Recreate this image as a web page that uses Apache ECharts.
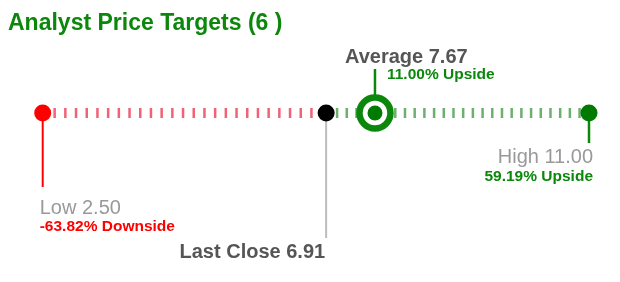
<!DOCTYPE html>
<html><head><meta charset="utf-8">
<script src="https://cdn.jsdelivr.net/npm/echarts@6/dist/echarts.min.js"></script>
<style>html,body{margin:0;padding:0;background:#fff}#c{width:620px;height:282px}</style>
</head><body><div id="c"></div>
<script>
// ---- data ----
const chartTitle = 'Analyst Price Targets';
const analystCount = 6;
const pointNames = ['Low', 'Last Close', 'Average', 'High'];
const pointPrices = [2.50, 6.91, 7.67, 11.00];

// ---- layout / style (not data) ----
const FONT = '"Liberation Sans", Arial, sans-serif';
const GREEN = '#0b880b';
const RED = '#ff0000';
const stemLen = { low: -74, close: -125, avg: 44, high: -30 };

const [low, close, avg, high] = pointPrices;
const pct = v => ((v - close) / close * 100);
const fmt = v => v.toFixed(2);
const chg = v => { const p = pct(v); return (p < 0 ? p.toFixed(2) + '% Downside' : p.toFixed(2) + '% Upside'); };

const chart = echarts.init(document.getElementById('c'), null, { renderer: 'canvas' });

function stem(x, len, color, width) {
  return { type: 'line', data: [[x, 0], [x, len]], symbol: 'none', silent: true, z: 2,
    lineStyle: { color, width, cap: 'butt' } };
}
function dot(x, size, style, z) {
  return { type: 'scatter', data: [[x, 0]], symbol: 'circle', symbolSize: size, silent: true, z: z || 5,
    itemStyle: Object.assign({ opacity: 1 }, style) };
}
function label(x, y, text, align, offset, rich) {
  return { type: 'scatter', data: [[x, y]], symbolSize: 1, silent: true, z: 6,
    itemStyle: { color: 'rgba(0,0,0,0)', opacity: 1 },
    label: { show: true, position: 'inside', align, verticalAlign: 'top', offset, opacity: 1,
      formatter: text, rich } };
}

const rich = {
  g: { fontFamily: FONT, fontSize: 20, color: '#999999', lineHeight: 22 },
  d: { fontFamily: FONT, fontSize: 20, fontWeight: 'bold', color: '#555555', lineHeight: 22 },
  r: { fontFamily: FONT, fontSize: 15.5, fontWeight: 'bold', color: RED, lineHeight: 16 },
  u: { fontFamily: FONT, fontSize: 15.5, fontWeight: 'bold', color: GREEN, lineHeight: 16 }
};

chart.setOption({
  animation: false,
  backgroundColor: '#ffffff',
  title: {
    text: chartTitle + ' (' + analystCount + ' )', left: 8, top: 12, padding: 0,
    textStyle: { color: GREEN, fontSize: 23, fontWeight: 'bold', fontFamily: FONT }
  },
  grid: { left: 42.7, right: 31, top: 0, bottom: 0 },
  xAxis: { type: 'value', min: low, max: high, show: false },
  yAxis: { type: 'value', min: -169, max: 113, show: false },
  series: [
    { type: 'line', data: [[low, 0], [close, 0]], symbol: 'none', silent: true, z: 1,
      lineStyle: { color: 'rgba(235,60,80,0.8)', width: 10, type: [2.5, 8.2], cap: 'butt' } },
    { type: 'line', data: [[close, 0], [high, 0]], symbol: 'none', silent: true, z: 1,
      lineStyle: { color: 'rgba(60,150,60,0.75)', width: 10, type: [2.5, 7.2], cap: 'butt' } },
    stem(low, stemLen.low, RED, 2),
    stem(close, stemLen.close, '#bdbdbd', 2),
    stem(avg, stemLen.avg, GREEN, 2.5),
    stem(high, stemLen.high, GREEN, 2.5),
    dot(low, 17, { color: RED }),
    dot(close, 17, { color: '#000000' }),
    dot(high, 17, { color: '#007a00' }),
    dot(avg, 31, { color: '#ffffff', borderColor: GREEN, borderWidth: 6.5 }),
    dot(avg, 15, { color: '#007a00' }, 7),
    label(low, stemLen.low, '{g|' + pointNames[0] + ' ' + fmt(low) + '}\n{r|' + chg(low) + '}', 'left', [-3, 10], rich),
    label(close, stemLen.close, '{d|' + pointNames[1] + ' ' + fmt(close) + '}', 'right', [-1, 3], rich),
    label(high, stemLen.high, '{g|' + pointNames[3] + ' ' + fmt(high) + '}\n{u|' + chg(high) + '}', 'right', [4, 3.5], rich),
    label(avg, stemLen.avg, '{d|' + pointNames[2] + ' ' + fmt(avg) + '}', 'left', [-30, -23], rich),
    label(avg, stemLen.avg, '{u|' + chg(avg) + '}', 'left', [12, -2], rich)
  ]
});
</script>
</body></html>
